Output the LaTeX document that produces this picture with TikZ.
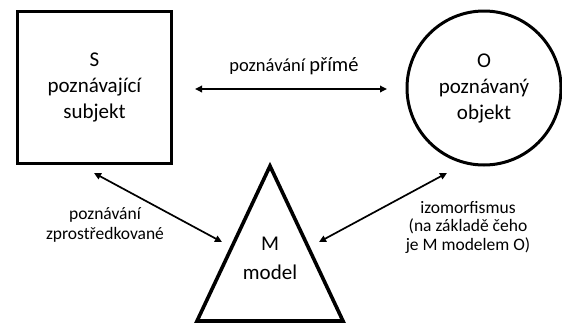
\documentclass[tikz,border=0pt]{standalone}
\usepackage{fontspec}
\setmainfont{Carlito}
\usetikzlibrary{arrows.meta}
\begin{document}
\begin{tikzpicture}[x=1pt,y=-1pt,
  thick shape/.style={draw, line width=3pt, inner sep=0pt},
  tip/.tip={Triangle[length=7pt,width=6.5pt]},
  link/.style={tip-tip, line width=1.7pt},
  big/.style={font=\fontsize{21}{26}\selectfont, align=center},
  small/.style={font=\fontsize{17.5}{18.5}\selectfont, align=center}]
\useasboundingbox (0,0) rectangle (562,327);
% subject box
\node[thick shape, minimum width=154pt, minimum height=152pt, big] (S) at (94.5,87.5) {S\\poznávající\\subjekt};
% object circle
\node[thick shape, circle, minimum size=154pt, big] (O) at (484,88) {O\\poznávaný\\objekt};
% model triangle
\coordinate (Mtop) at (270,166);
\coordinate (Mleft) at (197,321);
\coordinate (Mright) at (343,321);
\draw[line width=3.6pt, line join=miter] (Mtop) -- (Mleft) -- (Mright) -- cycle;
\node[big, font=\fontsize{21}{29}\selectfont] (M) at (270,258) {M\\model};
% connector end points
\coordinate (s1) at (195,89);
\coordinate (o1) at (387,89);
\coordinate (s2) at (94,173);
\coordinate (m1) at (222,242);
\coordinate (m2) at (319,242);
\coordinate (o2) at (447,173);
\draw[link] (s1) -- (o1);
\draw[link] (s2) -- (m1);
\draw[link] (m2) -- (o2);
% labels
\node[font=\fontsize{18.5}{20}\selectfont] (l1) at (294,66) {poznávání {\fontsize{20.5}{20}\selectfont přímé}};
\node[small, font=\fontsize{17.5}{20}\selectfont] (l2) at (105,225) {poznávání\\zprostředkované};
\node[small] (l3) at (468,227) {izomorfismus\\(na základě čeho\\je M modelem O)};
\end{tikzpicture}
\end{document}
